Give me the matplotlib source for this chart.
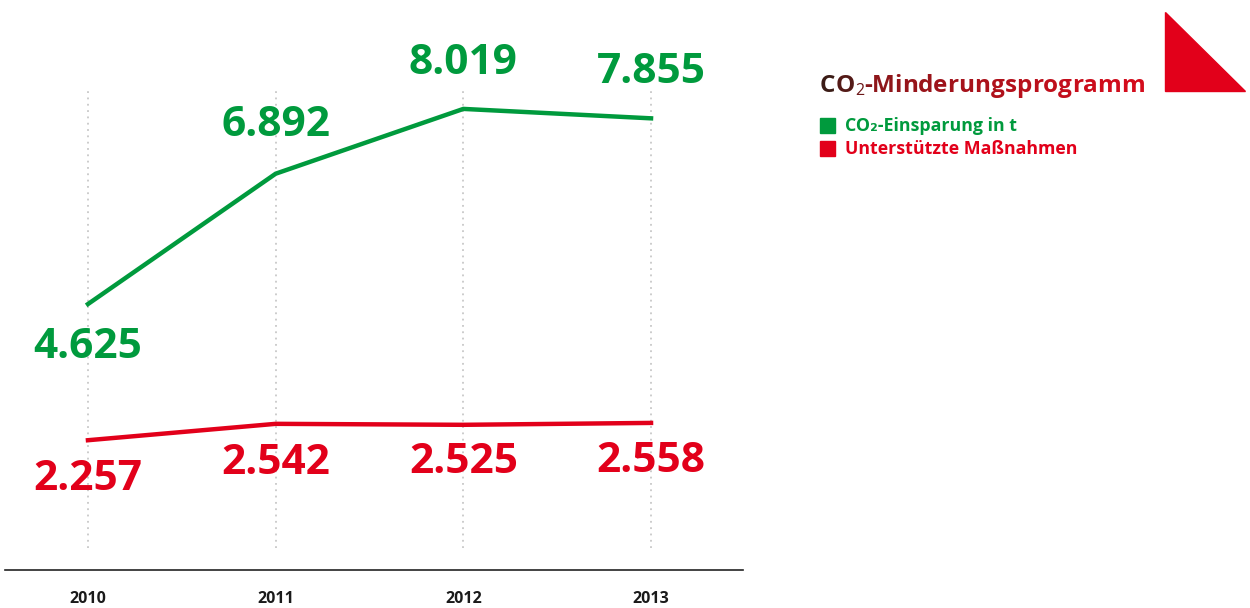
import matplotlib.pyplot as plt
from matplotlib.patches import Polygon
import numpy as np

# data
years = [2010, 2011, 2012, 2013]
co2_saving = [4625, 6892, 8019, 7855]
measures = [2257, 2542, 2525, 2558]
co2_labels = ["4.625", "6.892", "8.019", "7.855"]
measure_labels = ["2.257", "2.542", "2.525", "2.558"]

green = "#009a3d"
red = "#e2001a"

plt.rcParams['font.family'] = ['Open Sans', 'DejaVu Sans']

fig = plt.figure(figsize=(12.5, 6.08), dpi=100)
W, H = 1250, 608
ax = fig.add_axes([5 / W, 38 / H, 738 / W, 570 / H])
ax.set_xlim(2009.558, 2013.49)
ax.set_ylim(0, 9913)

# dotted guides
ax.vlines(years, 383, 8383, colors="#c8c8c8", linestyles=(0, (1, 2.5)), linewidth=1.3)

ax.plot(years, co2_saving, color=green, lw=3.2, solid_joinstyle="miter")
ax.plot(years, measures, color=red, lw=3.2, solid_joinstyle="miter")

# value labels (offsets in points)
co2_offsets = [-31.5, 34.5, 33, 33]
for x, v, lab, off in zip(years, co2_saving, co2_labels, co2_offsets):
    ax.annotate(lab, (x, v), xytext=(0, off), textcoords="offset points",
                ha="center", va="center", color=green, fontsize=30.5, fontweight="bold")
meas_offsets = [-28.5, -28.5, -27, -27.5]
for x, v, lab, off in zip(years, measures, measure_labels, meas_offsets):
    ax.annotate(lab, (x, v), xytext=(0, off), textcoords="offset points",
                ha="center", va="center", color=red, fontsize=30.5, fontweight="bold")

for s in ["top", "left", "right"]:
    ax.spines[s].set_visible(False)
ax.spines["bottom"].set_color("#222222")
ax.spines["bottom"].set_linewidth(1.2)
ax.set_yticks([])
ax.set_xticks(years)
ax.set_xticklabels([str(y) for y in years], fontsize=11.5, fontweight="bold", color="#1a1a1a")
ax.tick_params(axis="x", length=0, pad=15)

# title with brown -> red gradient
renderer = fig.canvas.get_renderer()
title_parts = [("C", 17.5, "bold", 0), ("O", 17.5, "bold", 0), ("2", 11.5, "normal", -3)]
title_parts += [(c, 17.5, "bold", 0) for c in "-Minderungsprogramm"]
start = np.array([0x3b, 0x1c, 0x16]) / 255
mid = np.array([0x8a, 0x16, 0x1a]) / 255
end = np.array([0xd4, 0x0c, 0x1c]) / 255
x = 820
n = len(title_parts)
for i, (ch, fs, fw, dy) in enumerate(title_parts):
    t = i / (n - 1)
    if t < 0.15:
        col = start + (mid - start) * (t / 0.15)
    else:
        col = mid + (end - mid) * ((t - 0.15) / 0.85)
    txt = fig.text(x / W, 1 - (92 - dy) / H, ch, fontsize=fs, fontweight=fw,
                   color=tuple(col), va="baseline", ha="left")
    x += txt.get_window_extent(renderer).width

# legend
fig.patches.append(plt.Rectangle((820 / W, 1 - 133 / H), 15 / W, 15 / H,
                                 transform=fig.transFigure, color=green))
fig.patches.append(plt.Rectangle((820 / W, 1 - 156 / H), 15 / W, 15 / H,
                                 transform=fig.transFigure, color=red))
fig.text(845 / W, 1 - 126 / H, "CO₂-Einsparung in t", color=green, fontsize=12.8,
         fontweight="bold", va="center", ha="left")
fig.text(845 / W, 1 - 149 / H, "Unterstützte Maßnahmen", color=red, fontsize=12.8,
         fontweight="bold", va="center", ha="left")

# corner triangle
fig.patches.append(Polygon([(1165 / W, 1 - 12 / H), (1165 / W, 1 - 91 / H), (1245 / W, 1 - 91 / H)],
                           closed=True, transform=fig.transFigure, color=red))

fig.savefig("out.png", dpi=100)
